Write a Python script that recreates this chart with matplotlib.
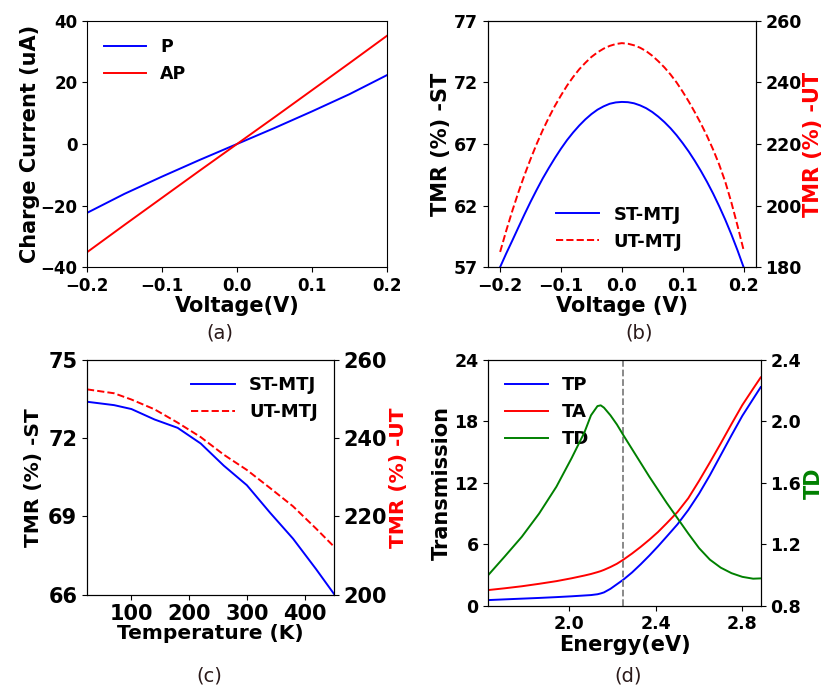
import matplotlib
matplotlib.use("Agg")
import matplotlib.pyplot as plt

plt.rcParams['font.family'] = ['DejaVu Sans']
plt.rcParams['font.weight'] = 'bold'
plt.rcParams['axes.labelweight'] = 'bold'

# ---------------- data ----------------
# (a) I-V
volt_a = [-0.2, -0.15, -0.1, -0.05, 0.0, 0.05, 0.1, 0.15, 0.2]
cur_P = [-22.4, -16.2, -10.6, -5.2, 0.0, 5.2, 10.6, 16.2, 22.4]
cur_AP = [-35.2, -26.3, -17.5, -8.7, 0.0, 8.7, 17.5, 26.3, 35.2]

# (b) TMR vs voltage
volt_b = [-0.20, -0.19, -0.18, -0.17, -0.16, -0.15, -0.14, -0.13, -0.12, -0.11,
          -0.10, -0.09, -0.08, -0.07, -0.06, -0.05, -0.04, -0.03, -0.02, -0.01,
          0.00, 0.01, 0.02, 0.03, 0.04, 0.05, 0.06, 0.07, 0.08, 0.09,
          0.10, 0.11, 0.12, 0.13, 0.14, 0.15, 0.16, 0.17, 0.18, 0.19, 0.20]
tmr_st_v = [57.0, 58.1, 59.15, 60.22, 61.28, 62.3, 63.27, 64.2, 65.05, 65.86,
            66.62, 67.32, 67.94, 68.5, 69.0, 69.43, 69.79, 70.06, 70.27, 70.38,
            70.42, 70.40, 70.31, 70.14, 69.91, 69.60, 69.22, 68.78, 68.28, 67.71,
            67.07, 66.38, 65.62, 64.80, 63.92, 62.97, 61.94, 60.84, 59.65, 58.37, 57.0]
tmr_ut_v = [184.9, 191.8, 198.25, 204.3, 209.9, 215.1, 220.0, 224.5, 228.6, 232.4,
            235.8, 239.0, 241.8, 244.3, 246.4, 248.3, 249.8, 251.0, 251.9, 252.5,
            252.8, 252.6, 252.1, 251.3, 250.2, 248.7, 246.9, 244.9, 242.6, 240.0,
            237.0, 233.8, 230.3, 226.6, 222.6, 218.2, 213.3, 207.7, 201.0, 193.5, 185.6]

# (c) TMR vs temperature
temp_c = [23, 70, 100, 140, 180, 220, 260, 300, 340, 380, 420, 451]
tmr_st_t = [73.40, 73.27, 73.12, 72.72, 72.40, 71.80, 70.95, 70.20, 69.15, 68.15, 66.98, 66.03]
tmr_ut_t = [252.5, 251.5, 249.9, 247.4, 244.0, 240.3, 235.8, 231.9, 227.3, 222.6, 216.9, 212.3]

# (d) transmission vs energy
energy = [1.625, 1.70, 1.78, 1.86, 1.94, 2.01, 2.07, 2.10, 2.13, 2.145, 2.16, 2.19,
          2.22, 2.25, 2.29, 2.33, 2.37, 2.41, 2.45, 2.50, 2.55, 2.60, 2.65, 2.70,
          2.75, 2.80, 2.85, 2.885]
trans_TP = [0.55, 0.62, 0.69, 0.76, 0.84, 0.92, 1.0, 1.04, 1.12, 1.2, 1.3, 1.65,
            2.1, 2.55, 3.25, 4.05, 4.9, 5.8, 6.75, 7.95, 9.35, 10.95, 12.75, 14.7,
            16.65, 18.55, 20.2, 21.35]
trans_TA = [1.53, 1.70, 1.90, 2.14, 2.40, 2.68, 2.95, 3.10, 3.28, 3.38, 3.50, 3.78,
            4.10, 4.5, 5.1, 5.75, 6.45, 7.2, 8.05, 9.15, 10.5, 12.2, 14.0, 15.85,
            17.75, 19.6, 21.2, 22.3]
trans_TD = [1.0, 1.119, 1.249, 1.40, 1.575, 1.76, 1.93, 2.04, 2.10, 2.105, 2.09, 2.04,
            1.98, 1.91, 1.82, 1.73, 1.64, 1.555, 1.47, 1.37, 1.27, 1.175, 1.10, 1.048,
            1.012, 0.988, 0.976, 0.978]
fermi_line = 2.25

# ---------------- figure ----------------
fig = plt.figure(figsize=(8.31, 6.88), dpi=100)
LW = 1.4
cap_color = '#2b1a1a'

# (a)
axa = fig.add_axes([0.1047, 0.6119, 0.361, 0.3576])
axa.plot(volt_a, cur_P, color='blue', lw=LW, label='P')
axa.plot(volt_a, cur_AP, color='red', lw=LW, label='AP')
axa.set_xlim(-0.2, 0.2)
axa.set_ylim(-40, 40)
axa.set_xticks([-0.2, -0.1, 0.0, 0.1, 0.2])
axa.set_yticks([-40, -20, 0, 20, 40])
axa.tick_params(labelsize=12)
axa.set_xlabel('Voltage(V)', fontsize=15, labelpad=1)
axa.set_ylabel('Charge Current (uA)', fontsize=15, labelpad=0)
axa.legend(loc='upper left', frameon=False, prop={'size': 12.5, 'weight': 'bold'},
           handlelength=2.4, borderaxespad=0.6)
fig.text(0.2647, 0.516, '(a)', ha='center', va='center', fontsize=14,
         fontweight='normal', color=cap_color)

# (b)
axb = fig.add_axes([0.5872, 0.6119, 0.3222, 0.3576])
l1, = axb.plot(volt_b, tmr_st_v, color='blue', lw=LW, label='ST-MTJ')
axb.set_xlim(-0.22, 0.22)
axb.set_ylim(57, 77)
axb.set_yticks([57, 62, 67, 72, 77])
axb.set_xticks([-0.2, -0.1, 0.0, 0.1, 0.2])
axb.tick_params(labelsize=12.5)
axb.set_xlabel('Voltage (V)', fontsize=15, labelpad=1)
axb.set_ylabel('TMR (%) -ST', fontsize=15, labelpad=2)
axb2 = axb.twinx()
l2, = axb2.plot(volt_b, tmr_ut_v, color='red', lw=LW, ls='--', label='UT-MTJ')
axb2.set_ylim(180, 260)
axb2.set_yticks([180, 200, 220, 240, 260])
axb2.tick_params(labelsize=12.5)
axb2.set_ylabel('TMR (%) -UT', fontsize=15, color='red', labelpad=1)
axb.legend([l1, l2], ['ST-MTJ', 'UT-MTJ'], loc='lower center', frameon=False,
           prop={'size': 13, 'weight': 'bold'}, handlelength=2.4,
           bbox_to_anchor=(0.49, 0.0))
fig.text(0.769, 0.516, '(b)', ha='center', va='center', fontsize=14,
         fontweight='normal', color=cap_color)

# (c)
axc = fig.add_axes([0.1047, 0.1356, 0.2972, 0.3411])
l3, = axc.plot(temp_c, tmr_st_t, color='blue', lw=LW, label='ST-MTJ')
axc.set_xlim(temp_c[0], temp_c[-1])
axc.set_ylim(66, 75)
axc.set_yticks([66, 69, 72, 75])
axc.set_xticks([100, 200, 300, 400])
axc.tick_params(labelsize=15)
axc.set_xlabel('Temperature (K)', fontsize=14.5, labelpad=0)
axc.set_ylabel('TMR (%) -ST', fontsize=14.5, labelpad=4)
axc2 = axc.twinx()
l4, = axc2.plot(temp_c, tmr_ut_t, color='red', lw=LW, ls='--', label='UT-MTJ')
axc2.set_ylim(200, 260)
axc2.set_yticks([200, 220, 240, 260])
axc2.tick_params(labelsize=15)
axc2.set_ylabel('TMR (%) -UT', fontsize=14.5, color='red', labelpad=1)
axc.legend([l3, l4], ['ST-MTJ', 'UT-MTJ'], loc='upper right', frameon=False,
           prop={'size': 13, 'weight': 'bold'}, handlelength=2.4)
fig.text(0.2515, 0.0174, '(c)', ha='center', va='center', fontsize=14,
         fontweight='normal', color=cap_color)

# (d)
axd = fig.add_axes([0.5876, 0.1196, 0.3278, 0.3571])
l5, = axd.plot(energy, trans_TP, color='blue', lw=LW, label='TP')
l6, = axd.plot(energy, trans_TA, color='red', lw=LW, label='TA')
axd.axvline(fermi_line, color='gray', ls='--', lw=1.3)
axd.set_xlim(energy[0], energy[-1])
axd.set_ylim(0, 24)
axd.set_yticks([0, 6, 12, 18, 24])
axd.set_xticks([2.0, 2.4, 2.8])
axd.tick_params(labelsize=12.5)
axd.set_xlabel('Energy(eV)', fontsize=15, labelpad=1)
axd.set_ylabel('Transmission', fontsize=15, labelpad=2)
axd2 = axd.twinx()
l7, = axd2.plot(energy, trans_TD, color='green', lw=LW, label='TD')
axd2.set_ylim(0.8, 2.4)
axd2.set_yticks([0.8, 1.2, 1.6, 2.0, 2.4])
axd2.tick_params(labelsize=12.5)
axd2.set_ylabel('TD', fontsize=15, color='green', labelpad=2)
axd.legend([l5, l6, l7], ['TP', 'TA', 'TD'], loc='upper left', frameon=False,
           prop={'size': 13, 'weight': 'bold'}, handlelength=2.4)
fig.text(0.7557, 0.0174, '(d)', ha='center', va='center', fontsize=14,
         fontweight='normal', color=cap_color)

fig.savefig('out.png', dpi=100)
